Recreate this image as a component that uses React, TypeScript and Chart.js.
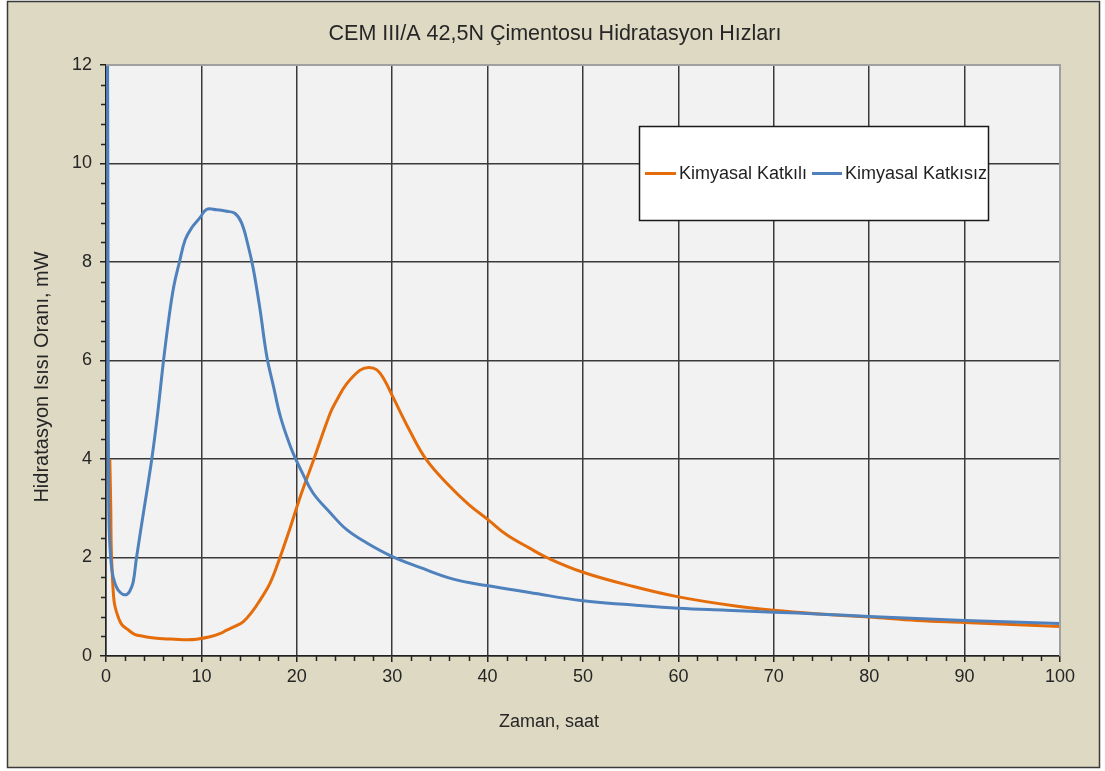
import React, { useEffect, useRef } from "react";
import { Chart, registerables } from "chart.js";

Chart.register(...registerables);

const FONT = '"Liberation Sans", Arial, sans-serif';

const chartTitle = "CEM III/A 42,5N Çimentosu Hidratasyon Hızları";
const xAxisTitle = "Zaman, saat";
const yAxisTitle = "Hidratasyon Isısı Oranı, mW";
const seriesLabels = ["Kimyasal Katkılı", "Kimyasal Katkısız"];
const seriesColors = ["#e46c0a", "#4f81bd"];

// Kimyasal Katkılı (orange)
const katkiliT = [
  0.4, 0.5, 0.55, 0.65, 0.8, 0.95, 1.3, 1.65, 2.2, 3.0, 3.9, 4.8, 6.0, 7.2, 8.5, 9.5, 10.9, 12.0, 12.6,
  13.5, 14.4, 15.4, 16.1, 17.2, 18.2, 19.3, 20.3, 21.7, 23.5, 24.2, 25.2, 26.6, 27.5, 28.4, 29.2, 30.1,
  31.8, 33.6, 36.0, 38.0, 40.1, 42.0, 44.4, 46.2, 50.0, 55.3, 60.0, 65.8, 70.0, 74.4, 80.0, 85.0, 90.0,
  95.0, 100.0,
];
const katkiliV = [
  4.0, 3.0, 2.2, 1.7, 1.2, 1.0, 0.78, 0.64, 0.55, 0.44, 0.4, 0.37, 0.35, 0.34, 0.33, 0.34, 0.39, 0.46, 0.52,
  0.6, 0.7, 0.92, 1.12, 1.48, 1.98, 2.6, 3.2, 3.95, 4.93, 5.2, 5.52, 5.8, 5.86, 5.81, 5.6, 5.25,
  4.59, 3.98, 3.45, 3.08, 2.76, 2.46, 2.19, 2.0, 1.7, 1.41, 1.2, 1.02, 0.93, 0.86, 0.79, 0.72, 0.68,
  0.64, 0.6,
];

// Kimyasal Katkısız (blue)
const katkisizT = [
  0.15, 0.2, 0.23, 0.27, 0.33, 0.45, 0.65, 0.9, 1.2, 1.5, 1.8, 2.2, 2.5, 2.85, 3.2, 4.0, 4.8, 5.4, 6.0,
  6.55, 7.1, 7.7, 8.3, 9.0, 9.85, 10.55, 11.6, 12.65, 13.5, 14.2, 14.9, 15.45, 16.15, 16.85, 17.55,
  18.3, 19.3, 20.0, 20.5, 21.7, 23.5, 25.2, 27.3, 29.9, 32.9, 36.4, 39.9, 44.4, 50.0, 55.0, 60.0, 65.0,
  70.0, 75.0, 80.0, 85.0, 90.0, 95.0, 100.0,
];
const katkisizV = [
  13.0, 9.0, 5.5, 3.5, 2.6, 2.1, 1.7, 1.5, 1.36, 1.29, 1.25, 1.25, 1.32, 1.5, 2.0, 3.0, 4.0, 4.9, 5.95,
  6.8, 7.5, 8.0, 8.45, 8.7, 8.9, 9.07, 9.06, 9.03, 8.99, 8.8, 8.33, 7.85, 7.03, 6.09, 5.48,
  4.85, 4.27, 3.95, 3.75, 3.31, 2.91, 2.57, 2.3, 2.03, 1.8, 1.56, 1.43, 1.29, 1.12, 1.04, 0.97, 0.93,
  0.89, 0.85, 0.8, 0.76, 0.72, 0.69, 0.66,
];

const X_MIN = 0;
const X_MAX = 100;
const X_STEP = 10;
const X_MINOR = 2;
const Y_MIN = 0;
const Y_MAX = 12;
const Y_STEP = 2;
const Y_MINOR = 0.4;

const decorPlugin = {
  id: "decor",
  beforeDraw(chart: any) {
    const { ctx, chartArea: a } = chart;
    ctx.save();
    ctx.fillStyle = "#ffffff";
    ctx.fillRect(0, 0, chart.width, chart.height);
    ctx.fillStyle = "#ddd9c3";
    ctx.fillRect(7, 1, 1093, 767);
    ctx.strokeStyle = "#3a3a3a";
    ctx.lineWidth = 1.5;
    ctx.strokeRect(7.5, 1.5, 1092, 766);
    ctx.fillStyle = "#f2f2f2";
    ctx.fillRect(a.left, a.top, a.right - a.left, a.bottom - a.top);
    ctx.restore();
  },
  afterDraw(chart: any) {
    const { ctx, chartArea: a, scales } = chart;
    const xs = scales.x;
    const ys = scales.y;
    ctx.save();
    // top / right plot border
    ctx.strokeStyle = "#a0a0a0";
    ctx.lineWidth = 2;
    ctx.beginPath();
    ctx.moveTo(a.left, a.top);
    ctx.lineTo(a.right, a.top);
    ctx.lineTo(a.right, a.bottom);
    ctx.stroke();

    // minor ticks
    ctx.strokeStyle = "#222";
    ctx.lineWidth = 1.5;
    ctx.beginPath();
    const ny = Math.round((Y_MAX - Y_MIN) / Y_MINOR);
    const perMajorY = Math.round(Y_STEP / Y_MINOR);
    for (let i = 1; i < ny; i++) {
      if (i % perMajorY === 0) continue;
      const y = Math.round(ys.getPixelForValue(Y_MIN + i * Y_MINOR)) + 0.5;
      ctx.moveTo(a.left - 5, y);
      ctx.lineTo(a.left, y);
    }
    const nx = Math.round((X_MAX - X_MIN) / X_MINOR);
    const perMajorX = Math.round(X_STEP / X_MINOR);
    for (let i = 1; i < nx; i++) {
      if (i % perMajorX === 0) continue;
      const x = Math.round(xs.getPixelForValue(X_MIN + i * X_MINOR)) + 0.5;
      ctx.moveTo(x, a.bottom);
      ctx.lineTo(x, a.bottom + 5);
    }
    ctx.stroke();

    // titles
    ctx.fillStyle = "#262626";
    ctx.textAlign = "center";
    ctx.textBaseline = "middle";
    ctx.font = `21.5px ${FONT}`;
    ctx.fillText(chartTitle, 555, 34);
    ctx.font = `18px ${FONT}`;
    ctx.fillText(xAxisTitle, 549, 722);
    ctx.save();
    ctx.translate(42, 377);
    ctx.rotate(-Math.PI / 2);
    ctx.font = `20px ${FONT}`;
    ctx.fillText(yAxisTitle, 0, 0);
    ctx.restore();

    // legend
    const bx = 639, by = 126, bw = 349, bh = 94;
    ctx.fillStyle = "#ffffff";
    ctx.fillRect(bx, by, bw, bh);
    ctx.strokeStyle = "#1a1a1a";
    ctx.lineWidth = 1.5;
    ctx.strokeRect(bx + 0.5, by + 0.5, bw, bh);
    const ly = 173.5;
    const items = [
      { x0: 645, x1: 676, tx: 679 },
      { x0: 812, x1: 842, tx: 845 },
    ];
    ctx.font = `18px ${FONT}`;
    ctx.textAlign = "left";
    ctx.textBaseline = "middle";
    items.forEach((it, i) => {
      ctx.strokeStyle = seriesColors[i];
      ctx.lineWidth = 3;
      ctx.beginPath();
      ctx.moveTo(it.x0, ly);
      ctx.lineTo(it.x1, ly);
      ctx.stroke();
      ctx.fillStyle = "#1f1f1f";
      ctx.fillText(seriesLabels[i], it.tx, ly + 1);
    });
    ctx.restore();
  },
};

export default function App() {
  const ref = useRef<HTMLCanvasElement | null>(null);

  useEffect(() => {
    document.body.style.margin = "0";
    const canvas = ref.current;
    if (!canvas) return;
    const gridColor = (c: any) =>
      c.tick && (c.tick.value === X_MAX && c.scale.axis === "x") ? "rgba(0,0,0,0)" :
      c.tick && (c.tick.value === Y_MAX && c.scale.axis === "y") ? "rgba(0,0,0,0)" : "#3a3a3a";
    const chart = new Chart(canvas, {
      type: "line",
      data: {
        datasets: [
          {
            label: seriesLabels[0],
            data: katkiliT.map((t, i) => ({ x: t, y: katkiliV[i] })),
            borderColor: seriesColors[0],
            backgroundColor: seriesColors[0],
            borderWidth: 3,
            pointRadius: 0,
            tension: 0.4,
            fill: false,
            order: 1,
          },
          {
            label: seriesLabels[1],
            data: katkisizT.map((t, i) => ({ x: t, y: katkisizV[i] })),
            borderColor: seriesColors[1],
            backgroundColor: seriesColors[1],
            borderWidth: 3,
            pointRadius: 0,
            tension: 0.4,
            fill: false,
            order: 0,
          },
        ],
      },
      options: {
        animation: false,
        responsive: false,
        maintainAspectRatio: false,
        layout: { padding: { top: 65, right: 45, left: 0, bottom: 0 } },
        plugins: {
          legend: { display: false },
          title: { display: false },
          tooltip: { enabled: false },
        },
        scales: {
          x: {
            type: "linear",
            min: X_MIN,
            max: X_MAX,
            ticks: {
              stepSize: X_STEP,
              color: "#262626",
              font: { family: FONT, size: 18 },
              padding: 4,
              maxRotation: 0,
            },
            grid: {
              color: gridColor,
              lineWidth: 1.5,
              tickLength: 6,
              tickColor: "#222",
              tickWidth: 1.5,
            },
            border: { display: true, color: "#222", width: 1.5 },
            afterFit: (s: any) => {
              s.height = 115;
            },
          },
          y: {
            type: "linear",
            min: Y_MIN,
            max: Y_MAX,
            ticks: {
              stepSize: Y_STEP,
              color: "#262626",
              font: { family: FONT, size: 18 },
              padding: 8,
            },
            grid: {
              color: gridColor,
              lineWidth: 1.5,
              tickLength: 6,
              tickColor: "#222",
              tickWidth: 1.5,
            },
            border: { display: true, color: "#222", width: 1.5 },
            afterFit: (s: any) => {
              s.width = 106;
            },
          },
        },
      },
      plugins: [decorPlugin],
    } as any);
    return () => chart.destroy();
  }, []);

  return (
    <div style={{ position: "fixed", left: 0, top: 0, width: 1105, height: 771 }}>
      <canvas ref={ref} width={1105} height={771} style={{ display: "block", width: 1105, height: 771 }} />
    </div>
  );
}
